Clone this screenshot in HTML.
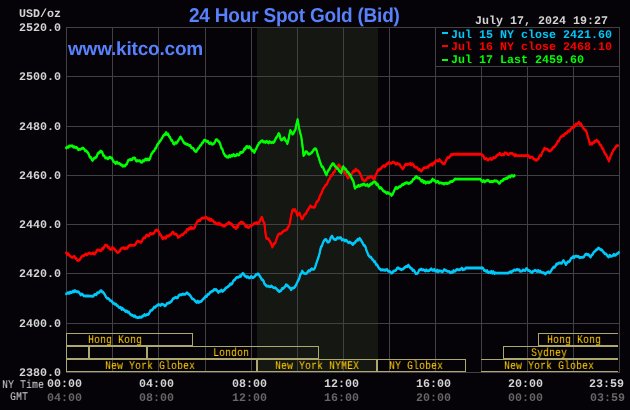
<!DOCTYPE html>
<html><head><meta charset="utf-8"><style>
html,body{margin:0;padding:0;background:#050308;}
#c{position:relative;width:630px;height:410px;overflow:hidden;}
svg{position:absolute;left:0;top:0;}
.t{position:absolute;white-space:pre;line-height:1;will-change:transform;text-rendering:geometricPrecision;}
.m7{font-family:"Liberation Mono",monospace;font-size:11.67px;font-weight:bold;}
.m6{font-family:"Liberation Mono",monospace;font-size:11.67px;transform:scaleX(0.857143);transform-origin:0 0;}
.sb{font-family:"Liberation Sans",sans-serif;font-weight:bold;color:#5882fc;}
</style></head><body><div id="c">
<svg width="630" height="410">
<rect x="0" y="0" width="630" height="410" fill="#050308"/>
<rect x="257" y="28" width="121" height="344" fill="#151713"/>
<rect x="66" y="27" width="1" height="346" fill="#414141"/>
<rect x="112" y="27" width="1" height="346" fill="#414141"/>
<rect x="158" y="27" width="1" height="346" fill="#414141"/>
<rect x="205" y="27" width="1" height="346" fill="#414141"/>
<rect x="251" y="27" width="1" height="346" fill="#414141"/>
<rect x="297" y="27" width="1" height="346" fill="#414141"/>
<rect x="343" y="27" width="1" height="346" fill="#414141"/>
<rect x="389" y="27" width="1" height="346" fill="#414141"/>
<rect x="435" y="27" width="1" height="346" fill="#414141"/>
<rect x="481" y="27" width="1" height="346" fill="#414141"/>
<rect x="527" y="27" width="1" height="346" fill="#414141"/>
<rect x="573" y="27" width="1" height="346" fill="#414141"/>
<rect x="619" y="27" width="1" height="346" fill="#414141"/>
<rect x="66" y="27" width="554" height="1" fill="#414141"/>
<rect x="66" y="76" width="554" height="1" fill="#414141"/>
<rect x="66" y="126" width="554" height="1" fill="#414141"/>
<rect x="66" y="175" width="554" height="1" fill="#414141"/>
<rect x="66" y="224" width="554" height="1" fill="#414141"/>
<rect x="66" y="273" width="554" height="1" fill="#414141"/>
<rect x="66" y="323" width="554" height="1" fill="#414141"/>
<rect x="66" y="372" width="554" height="1" fill="#414141"/>
<rect x="435" y="27" width="185" height="40" fill="#414141"/>
<rect x="436" y="28" width="183" height="38" fill="#050308"/>
<g fill="none" stroke="#00c8f8" stroke-width="1.9" stroke-linejoin="round" stroke-linecap="square"><polyline points="66.3,293.3 67.3,292.7 68.2,292.1 69.2,292.9 70.1,291.4 71.1,292.2 72.1,291.6 73.0,290.6 74.0,291.4 74.9,290.1 75.9,290.9 76.9,291.3 77.9,291.1 78.9,291.7 79.8,293.0 80.8,294.4 81.8,293.4 82.8,294.2 83.8,295.4 84.8,295.4 85.7,295.5 86.6,295.5 87.6,295.5 88.5,295.5 89.5,295.6 90.5,295.6 91.4,295.6 92.3,295.7 93.3,295.7 94.3,294.2 95.3,293.9 96.3,294.3 97.3,292.2 98.3,292.4 99.3,291.8 100.3,290.5 101.3,290.1 102.2,291.5 103.2,291.7 104.1,293.0 105.1,294.6 106.0,296.5 107.0,297.7 108.0,297.9 109.0,298.5 110.0,299.8 111.0,300.3 112.0,300.8 113.0,302.7 114.0,302.8 115.0,303.9 115.9,303.5 116.8,304.9 117.8,305.4 118.8,306.8 119.7,307.1 120.7,306.8 121.6,309.0 122.5,307.7 123.5,309.2 124.5,309.7 125.6,311.1 126.7,310.4 127.7,311.8 128.8,311.5 129.8,313.2 130.8,314.1 131.8,314.8 132.8,314.8 133.8,316.0 134.8,315.2 135.8,316.6 136.8,316.8 137.8,317.1 138.8,317.0 139.7,316.4 140.7,316.9 141.6,316.8 142.6,315.4 143.5,315.5 144.5,313.9 145.4,315.0 146.4,314.5 147.3,313.9 148.3,314.0 149.3,312.7 150.2,310.6 151.2,309.8 152.2,309.5 153.2,308.2 154.2,306.5 155.3,306.8 156.3,305.5 157.4,304.8 158.4,304.0 159.5,304.3 160.6,305.0 161.6,303.6 162.7,303.9 163.8,304.3 164.8,305.5 165.9,304.7 166.9,302.9 167.9,302.9 168.9,302.3 169.9,302.1 170.8,301.2 171.8,300.4 172.8,298.3 173.8,297.9 174.8,297.3 175.8,296.7 176.8,297.4 177.8,297.1 178.7,294.9 179.7,294.5 180.7,294.2 181.7,294.3 182.8,293.5 183.8,293.9 184.9,293.9 186.0,293.0 187.0,292.3 188.1,293.2 189.1,294.0 190.0,294.8 191.0,296.2 192.0,298.1 192.9,298.5 193.9,299.0 194.9,300.2 195.8,301.3 196.8,301.9 197.7,300.5 198.7,302.0 199.6,301.3 200.5,301.1 201.5,300.6 202.4,299.5 203.4,298.3 204.5,297.4 205.6,295.8 206.6,296.1 207.6,293.9 208.7,293.9 209.8,292.2 210.8,291.7 211.9,290.8 213.0,290.4 214.0,289.0 215.1,289.2 216.2,289.0 217.2,290.3 218.3,292.0 219.4,290.7 220.4,290.8 221.4,289.6 222.5,291.0 223.6,289.9 224.6,289.2 225.6,287.6 226.5,287.1 227.5,286.5 228.4,285.7 229.4,285.2 230.3,283.3 231.3,283.8 232.2,283.0 233.2,280.7 234.1,279.7 235.1,279.0 236.0,277.5 237.0,276.9 237.9,276.8 238.9,276.5 239.9,275.3 240.8,275.9 241.8,273.8 242.7,272.9 243.7,273.3 244.7,275.5 245.8,275.7 246.8,276.8 247.9,276.2 249.0,277.3 250.1,277.4 251.1,275.9 252.0,276.6 253.0,277.2 253.9,276.5 254.9,275.7 255.8,274.3 256.8,274.2 257.7,273.3 258.7,273.6 259.7,275.7 260.6,276.7 261.6,278.8 262.6,279.3 263.6,280.6 264.5,283.4 265.5,284.2 266.5,285.6 267.4,285.6 268.4,285.8 269.4,286.1 270.4,286.2 271.3,285.4 272.3,286.3 273.3,287.0 274.2,287.4 275.2,287.3 276.2,288.0 277.2,289.2 278.1,289.9 279.1,291.1 280.1,290.5 281.1,290.1 282.1,288.0 283.0,288.1 284.0,287.2 285.0,286.2 286.0,284.2 287.0,284.9 288.0,285.6 289.1,286.7 290.1,287.6 291.1,289.3 292.1,287.6 293.1,287.5 294.2,287.1 295.2,286.0 296.2,284.2 297.2,281.9 298.2,280.0 299.2,278.1 300.2,274.2 301.2,273.2 302.2,270.6 303.3,272.3 304.5,272.9 305.6,273.1 306.6,272.9 307.6,271.5 308.7,270.1 309.7,270.6 310.7,269.2 311.8,268.3 312.9,268.9 313.9,268.7 315.0,267.2 316.1,263.5 317.3,260.1 318.4,256.9 319.6,252.8 320.9,246.7 322.0,245.3 323.0,242.1 324.1,240.1 325.2,239.0 326.3,239.1 327.5,241.6 328.6,241.6 329.7,240.3 330.9,236.8 332.0,235.6 333.1,237.5 334.3,238.9 335.4,239.0 336.3,238.8 337.1,237.5 338.0,237.3 339.0,237.7 340.0,237.1 340.9,237.2 341.9,239.6 342.9,239.2 343.9,239.3 344.8,240.5 345.8,239.7 346.8,240.2 347.8,241.7 348.8,242.2 349.8,241.5 350.8,242.3 351.8,243.0 352.8,244.1 353.8,242.6 354.7,242.5 355.7,240.9 356.7,240.3 357.7,238.8 358.6,239.6 359.6,237.8 360.6,239.0 361.6,240.7 362.6,242.4 363.6,244.6 364.6,245.0 365.6,246.7 366.5,250.2 367.3,251.8 368.2,254.4 369.2,255.6 370.2,256.7 371.1,256.7 372.1,258.8 373.1,259.4 374.1,261.2 375.1,261.3 376.1,264.3 377.1,264.1 378.0,266.0 379.0,267.8 380.0,268.6 381.0,269.7 382.0,269.2 383.0,269.5 384.1,269.5 385.1,269.9 386.1,269.2 387.1,269.0 388.1,270.7 389.2,270.7 390.2,271.4 391.2,272.6 392.2,272.4 393.1,271.1 394.1,270.4 395.1,270.1 396.1,269.7 397.0,267.8 398.0,267.2 399.1,268.1 400.3,268.5 401.4,269.2 402.4,268.6 403.4,268.3 404.4,267.1 405.3,266.6 406.3,265.9 407.3,266.2 408.3,264.6 409.4,266.2 410.6,267.7 411.7,268.0 412.7,270.0 413.7,269.5 414.8,271.2 415.8,273.1 416.8,273.1 417.9,272.5 419.1,269.7 420.2,269.2 421.2,268.6 422.2,269.6 423.3,269.1 424.3,269.7 425.3,270.6 426.3,269.3 427.3,270.3 428.4,270.2 429.4,270.1 430.4,268.9 431.4,268.3 432.3,269.7 433.3,269.8 434.2,268.8 435.2,270.6 436.2,270.9 437.1,269.5 438.1,271.3 439.0,270.2 440.0,270.6 441.0,270.4 442.1,271.3 443.1,270.8 444.2,269.1 445.2,269.7 446.2,270.1 447.3,270.8 448.3,270.9 449.4,271.1 450.4,272.3 451.5,271.5 452.5,272.0 453.6,270.1 454.6,270.9 455.7,270.2 456.8,268.9 457.8,269.2 458.9,269.2 459.9,269.2 460.8,268.7 461.8,267.5 462.8,269.3 463.8,268.6 464.7,268.8 465.7,267.5 466.7,267.5 467.8,267.5 468.8,267.5 469.8,267.5 470.8,267.5 471.9,267.5 472.9,267.5 473.9,267.5 474.9,267.5 476.0,267.5 477.0,267.5 478.0,267.5 479.0,267.5 480.1,267.5 481.1,267.5 482.1,267.3 483.1,267.9 484.2,270.0 485.2,270.1 486.2,270.9 487.2,270.1 488.2,272.2 489.3,271.7 490.3,272.2 491.3,270.8 492.3,272.7 493.3,271.1 494.4,273.1 495.4,272.3 496.4,272.6 497.4,272.6 498.4,272.6 499.4,272.6 500.4,272.6 501.4,272.6 502.4,272.6 503.4,272.6 504.4,272.6 505.4,272.6 506.4,272.6 507.4,272.6 508.4,272.6 509.4,271.8 510.3,271.3 511.3,271.9 512.3,270.5 513.3,270.5 514.2,269.4 515.2,269.7 516.2,269.5 517.1,268.9 518.1,269.5 519.1,269.1 520.1,270.9 521.0,270.6 522.0,270.6 523.0,269.5 524.1,269.7 525.1,270.3 526.2,268.1 527.2,268.5 528.2,270.1 529.3,270.1 530.4,271.0 531.4,271.9 532.3,272.1 533.2,270.6 534.2,270.3 535.1,269.7 536.1,270.3 537.1,271.1 538.2,269.9 539.2,271.2 540.2,270.6 541.2,271.7 542.3,272.1 543.3,272.2 544.4,272.7 545.4,273.6 546.4,272.2 547.4,271.9 548.5,271.3 549.5,272.4 550.5,271.4 551.5,269.5 552.5,268.0 553.5,266.5 554.5,266.8 555.5,265.5 556.5,263.4 557.5,263.7 558.5,262.7 559.6,262.5 560.6,262.5 561.6,262.9 562.5,261.4 563.3,260.0 564.5,261.3 565.8,264.1 566.8,262.7 567.9,261.1 568.9,261.3 570.0,260.1 571.0,257.8 572.0,257.4 573.1,256.1 574.2,257.2 575.2,255.6 576.3,255.6 577.4,256.1 578.4,255.8 579.5,257.3 580.6,256.9 581.6,256.9 582.7,256.8 583.8,256.6 585.0,254.4 586.3,253.5 587.4,254.3 588.5,254.0 589.5,255.3 590.6,256.6 591.6,254.6 592.5,254.1 593.5,252.2 594.5,251.0 595.4,250.5 596.4,249.2 597.3,248.8 598.3,247.5 599.4,248.1 600.6,249.2 601.7,249.2 602.7,250.6 603.7,251.8 604.7,253.2 605.6,253.2 606.6,254.2 607.6,255.6 608.6,256.6 609.7,254.7 610.7,255.9 611.8,255.6 612.8,255.2 613.8,253.7 614.8,254.9 615.8,254.5 616.7,253.4 617.7,253.1 618.7,252.1"/><polyline transform="translate(0,1)" points="66.3,293.3 67.3,292.7 68.2,292.1 69.2,292.9 70.1,291.4 71.1,292.2 72.1,291.6 73.0,290.6 74.0,291.4 74.9,290.1 75.9,290.9 76.9,291.3 77.9,291.1 78.9,291.7 79.8,293.0 80.8,294.4 81.8,293.4 82.8,294.2 83.8,295.4 84.8,295.4 85.7,295.5 86.6,295.5 87.6,295.5 88.5,295.5 89.5,295.6 90.5,295.6 91.4,295.6 92.3,295.7 93.3,295.7 94.3,294.2 95.3,293.9 96.3,294.3 97.3,292.2 98.3,292.4 99.3,291.8 100.3,290.5 101.3,290.1 102.2,291.5 103.2,291.7 104.1,293.0 105.1,294.6 106.0,296.5 107.0,297.7 108.0,297.9 109.0,298.5 110.0,299.8 111.0,300.3 112.0,300.8 113.0,302.7 114.0,302.8 115.0,303.9 115.9,303.5 116.8,304.9 117.8,305.4 118.8,306.8 119.7,307.1 120.7,306.8 121.6,309.0 122.5,307.7 123.5,309.2 124.5,309.7 125.6,311.1 126.7,310.4 127.7,311.8 128.8,311.5 129.8,313.2 130.8,314.1 131.8,314.8 132.8,314.8 133.8,316.0 134.8,315.2 135.8,316.6 136.8,316.8 137.8,317.1 138.8,317.0 139.7,316.4 140.7,316.9 141.6,316.8 142.6,315.4 143.5,315.5 144.5,313.9 145.4,315.0 146.4,314.5 147.3,313.9 148.3,314.0 149.3,312.7 150.2,310.6 151.2,309.8 152.2,309.5 153.2,308.2 154.2,306.5 155.3,306.8 156.3,305.5 157.4,304.8 158.4,304.0 159.5,304.3 160.6,305.0 161.6,303.6 162.7,303.9 163.8,304.3 164.8,305.5 165.9,304.7 166.9,302.9 167.9,302.9 168.9,302.3 169.9,302.1 170.8,301.2 171.8,300.4 172.8,298.3 173.8,297.9 174.8,297.3 175.8,296.7 176.8,297.4 177.8,297.1 178.7,294.9 179.7,294.5 180.7,294.2 181.7,294.3 182.8,293.5 183.8,293.9 184.9,293.9 186.0,293.0 187.0,292.3 188.1,293.2 189.1,294.0 190.0,294.8 191.0,296.2 192.0,298.1 192.9,298.5 193.9,299.0 194.9,300.2 195.8,301.3 196.8,301.9 197.7,300.5 198.7,302.0 199.6,301.3 200.5,301.1 201.5,300.6 202.4,299.5 203.4,298.3 204.5,297.4 205.6,295.8 206.6,296.1 207.6,293.9 208.7,293.9 209.8,292.2 210.8,291.7 211.9,290.8 213.0,290.4 214.0,289.0 215.1,289.2 216.2,289.0 217.2,290.3 218.3,292.0 219.4,290.7 220.4,290.8 221.4,289.6 222.5,291.0 223.6,289.9 224.6,289.2 225.6,287.6 226.5,287.1 227.5,286.5 228.4,285.7 229.4,285.2 230.3,283.3 231.3,283.8 232.2,283.0 233.2,280.7 234.1,279.7 235.1,279.0 236.0,277.5 237.0,276.9 237.9,276.8 238.9,276.5 239.9,275.3 240.8,275.9 241.8,273.8 242.7,272.9 243.7,273.3 244.7,275.5 245.8,275.7 246.8,276.8 247.9,276.2 249.0,277.3 250.1,277.4 251.1,275.9 252.0,276.6 253.0,277.2 253.9,276.5 254.9,275.7 255.8,274.3 256.8,274.2 257.7,273.3 258.7,273.6 259.7,275.7 260.6,276.7 261.6,278.8 262.6,279.3 263.6,280.6 264.5,283.4 265.5,284.2 266.5,285.6 267.4,285.6 268.4,285.8 269.4,286.1 270.4,286.2 271.3,285.4 272.3,286.3 273.3,287.0 274.2,287.4 275.2,287.3 276.2,288.0 277.2,289.2 278.1,289.9 279.1,291.1 280.1,290.5 281.1,290.1 282.1,288.0 283.0,288.1 284.0,287.2 285.0,286.2 286.0,284.2 287.0,284.9 288.0,285.6 289.1,286.7 290.1,287.6 291.1,289.3 292.1,287.6 293.1,287.5 294.2,287.1 295.2,286.0 296.2,284.2 297.2,281.9 298.2,280.0 299.2,278.1 300.2,274.2 301.2,273.2 302.2,270.6 303.3,272.3 304.5,272.9 305.6,273.1 306.6,272.9 307.6,271.5 308.7,270.1 309.7,270.6 310.7,269.2 311.8,268.3 312.9,268.9 313.9,268.7 315.0,267.2 316.1,263.5 317.3,260.1 318.4,256.9 319.6,252.8 320.9,246.7 322.0,245.3 323.0,242.1 324.1,240.1 325.2,239.0 326.3,239.1 327.5,241.6 328.6,241.6 329.7,240.3 330.9,236.8 332.0,235.6 333.1,237.5 334.3,238.9 335.4,239.0 336.3,238.8 337.1,237.5 338.0,237.3 339.0,237.7 340.0,237.1 340.9,237.2 341.9,239.6 342.9,239.2 343.9,239.3 344.8,240.5 345.8,239.7 346.8,240.2 347.8,241.7 348.8,242.2 349.8,241.5 350.8,242.3 351.8,243.0 352.8,244.1 353.8,242.6 354.7,242.5 355.7,240.9 356.7,240.3 357.7,238.8 358.6,239.6 359.6,237.8 360.6,239.0 361.6,240.7 362.6,242.4 363.6,244.6 364.6,245.0 365.6,246.7 366.5,250.2 367.3,251.8 368.2,254.4 369.2,255.6 370.2,256.7 371.1,256.7 372.1,258.8 373.1,259.4 374.1,261.2 375.1,261.3 376.1,264.3 377.1,264.1 378.0,266.0 379.0,267.8 380.0,268.6 381.0,269.7 382.0,269.2 383.0,269.5 384.1,269.5 385.1,269.9 386.1,269.2 387.1,269.0 388.1,270.7 389.2,270.7 390.2,271.4 391.2,272.6 392.2,272.4 393.1,271.1 394.1,270.4 395.1,270.1 396.1,269.7 397.0,267.8 398.0,267.2 399.1,268.1 400.3,268.5 401.4,269.2 402.4,268.6 403.4,268.3 404.4,267.1 405.3,266.6 406.3,265.9 407.3,266.2 408.3,264.6 409.4,266.2 410.6,267.7 411.7,268.0 412.7,270.0 413.7,269.5 414.8,271.2 415.8,273.1 416.8,273.1 417.9,272.5 419.1,269.7 420.2,269.2 421.2,268.6 422.2,269.6 423.3,269.1 424.3,269.7 425.3,270.6 426.3,269.3 427.3,270.3 428.4,270.2 429.4,270.1 430.4,268.9 431.4,268.3 432.3,269.7 433.3,269.8 434.2,268.8 435.2,270.6 436.2,270.9 437.1,269.5 438.1,271.3 439.0,270.2 440.0,270.6 441.0,270.4 442.1,271.3 443.1,270.8 444.2,269.1 445.2,269.7 446.2,270.1 447.3,270.8 448.3,270.9 449.4,271.1 450.4,272.3 451.5,271.5 452.5,272.0 453.6,270.1 454.6,270.9 455.7,270.2 456.8,268.9 457.8,269.2 458.9,269.2 459.9,269.2 460.8,268.7 461.8,267.5 462.8,269.3 463.8,268.6 464.7,268.8 465.7,267.5 466.7,267.5 467.8,267.5 468.8,267.5 469.8,267.5 470.8,267.5 471.9,267.5 472.9,267.5 473.9,267.5 474.9,267.5 476.0,267.5 477.0,267.5 478.0,267.5 479.0,267.5 480.1,267.5 481.1,267.5 482.1,267.3 483.1,267.9 484.2,270.0 485.2,270.1 486.2,270.9 487.2,270.1 488.2,272.2 489.3,271.7 490.3,272.2 491.3,270.8 492.3,272.7 493.3,271.1 494.4,273.1 495.4,272.3 496.4,272.6 497.4,272.6 498.4,272.6 499.4,272.6 500.4,272.6 501.4,272.6 502.4,272.6 503.4,272.6 504.4,272.6 505.4,272.6 506.4,272.6 507.4,272.6 508.4,272.6 509.4,271.8 510.3,271.3 511.3,271.9 512.3,270.5 513.3,270.5 514.2,269.4 515.2,269.7 516.2,269.5 517.1,268.9 518.1,269.5 519.1,269.1 520.1,270.9 521.0,270.6 522.0,270.6 523.0,269.5 524.1,269.7 525.1,270.3 526.2,268.1 527.2,268.5 528.2,270.1 529.3,270.1 530.4,271.0 531.4,271.9 532.3,272.1 533.2,270.6 534.2,270.3 535.1,269.7 536.1,270.3 537.1,271.1 538.2,269.9 539.2,271.2 540.2,270.6 541.2,271.7 542.3,272.1 543.3,272.2 544.4,272.7 545.4,273.6 546.4,272.2 547.4,271.9 548.5,271.3 549.5,272.4 550.5,271.4 551.5,269.5 552.5,268.0 553.5,266.5 554.5,266.8 555.5,265.5 556.5,263.4 557.5,263.7 558.5,262.7 559.6,262.5 560.6,262.5 561.6,262.9 562.5,261.4 563.3,260.0 564.5,261.3 565.8,264.1 566.8,262.7 567.9,261.1 568.9,261.3 570.0,260.1 571.0,257.8 572.0,257.4 573.1,256.1 574.2,257.2 575.2,255.6 576.3,255.6 577.4,256.1 578.4,255.8 579.5,257.3 580.6,256.9 581.6,256.9 582.7,256.8 583.8,256.6 585.0,254.4 586.3,253.5 587.4,254.3 588.5,254.0 589.5,255.3 590.6,256.6 591.6,254.6 592.5,254.1 593.5,252.2 594.5,251.0 595.4,250.5 596.4,249.2 597.3,248.8 598.3,247.5 599.4,248.1 600.6,249.2 601.7,249.2 602.7,250.6 603.7,251.8 604.7,253.2 605.6,253.2 606.6,254.2 607.6,255.6 608.6,256.6 609.7,254.7 610.7,255.9 611.8,255.6 612.8,255.2 613.8,253.7 614.8,254.9 615.8,254.5 616.7,253.4 617.7,253.1 618.7,252.1"/></g>
<g fill="none" stroke="#ff0000" stroke-width="1.9" stroke-linejoin="round" stroke-linecap="square"><polyline points="66.3,252.4 67.3,253.9 68.2,253.2 69.2,254.8 70.1,255.5 71.1,256.3 72.2,256.9 73.2,256.6 74.3,255.8 75.3,257.6 76.3,258.1 77.3,259.8 78.3,260.0 79.2,259.6 80.1,258.8 81.0,257.0 82.0,255.8 82.9,255.2 83.8,255.2 84.7,254.4 85.7,253.4 86.6,254.5 87.5,253.5 88.5,253.1 89.4,252.4 90.3,252.9 91.3,253.3 92.2,253.1 93.2,252.3 94.1,253.6 95.2,252.9 96.2,251.4 97.3,249.5 98.3,249.6 99.3,249.8 100.3,250.2 101.3,250.0 102.2,248.0 103.2,248.4 104.1,246.3 105.1,244.8 106.0,244.7 107.0,245.0 107.9,246.9 108.9,246.6 109.8,248.6 110.8,248.9 111.6,248.9 112.4,246.8 113.3,247.7 114.2,248.3 115.2,249.4 116.1,250.7 117.0,251.7 117.9,252.0 118.9,251.4 119.8,250.6 120.8,248.4 121.7,247.7 122.7,247.6 123.7,247.1 124.7,248.3 125.7,247.4 126.7,247.9 127.6,247.4 128.6,245.5 129.5,245.0 130.5,244.8 131.4,244.7 132.4,244.9 133.4,244.8 134.4,244.6 135.4,244.1 136.6,241.8 137.8,240.5 138.9,241.0 139.9,241.4 141.0,242.0 142.0,240.4 143.1,238.0 144.1,237.3 145.2,237.3 146.2,234.8 147.3,234.6 148.3,235.4 149.2,235.0 150.2,232.8 151.1,233.5 152.1,233.3 153.1,233.1 154.1,232.6 155.0,230.6 156.0,229.8 157.1,229.6 158.2,230.5 159.1,231.4 160.1,234.6 161.0,234.6 162.0,237.0 162.9,238.4 163.9,237.1 164.8,237.4 165.8,237.8 166.7,235.4 167.7,235.7 168.6,235.7 169.6,234.4 170.5,234.5 171.4,233.4 172.4,231.7 173.3,231.6 174.2,233.5 175.2,233.6 176.1,233.7 177.1,234.7 178.0,236.8 179.0,236.3 179.9,235.7 180.9,234.9 181.8,234.1 182.8,234.4 183.9,233.0 184.9,231.8 185.9,231.8 187.0,228.9 188.1,229.5 189.1,227.8 190.0,228.4 191.0,226.6 191.9,228.2 192.8,227.6 193.8,227.9 194.7,226.8 195.9,223.6 197.1,221.4 198.0,220.4 199.0,219.7 199.9,220.3 200.9,218.7 201.8,217.8 202.7,217.5 203.7,217.6 204.6,217.3 205.5,216.8 206.5,216.9 207.4,217.8 208.3,218.9 209.3,218.1 210.2,220.0 211.2,218.8 212.1,219.8 213.1,220.2 214.1,221.7 215.1,222.0 216.1,223.6 217.2,223.0 218.2,223.9 219.3,222.5 220.2,223.9 221.2,224.3 222.1,224.4 223.1,225.6 224.0,225.2 225.0,225.5 226.0,224.0 227.0,223.7 228.0,222.5 229.1,221.8 230.1,223.5 231.2,223.3 232.2,224.2 233.1,225.8 234.1,226.5 235.0,226.7 236.0,228.1 236.9,225.8 237.9,226.5 238.8,223.4 239.8,222.9 240.7,221.7 241.8,221.8 242.8,222.1 243.9,223.0 244.9,224.6 245.9,226.1 246.9,225.5 247.9,227.1 249.0,226.8 250.1,225.4 251.1,225.4 252.2,224.6 253.1,223.9 254.1,223.0 255.0,222.5 255.9,222.8 256.9,222.0 257.9,223.3 258.9,222.2 259.9,220.4 261.0,217.9 262.0,216.7 263.2,220.6 264.4,222.8 265.3,231.2 266.2,237.4 267.2,238.1 268.3,238.3 269.3,239.9 270.3,241.5 271.3,243.5 272.3,246.6 273.3,244.8 274.4,242.8 275.4,242.3 276.4,238.9 277.4,236.1 278.4,233.8 279.5,233.3 280.5,233.4 281.6,232.5 282.7,231.3 283.8,230.5 284.9,229.9 285.9,229.6 287.0,228.9 288.2,226.5 289.4,224.6 290.4,219.3 291.4,213.7 292.4,209.7 293.3,209.0 294.2,210.3 295.1,209.1 296.2,211.3 297.3,215.1 298.4,213.8 299.5,212.4 300.6,215.7 301.7,218.4 302.8,217.8 303.9,215.0 305.0,213.8 306.1,212.9 307.2,210.4 308.3,208.9 309.4,207.1 310.5,205.3 311.6,206.6 312.7,206.6 313.8,206.9 314.9,206.4 315.9,203.2 316.9,201.2 317.8,200.6 318.8,198.9 319.8,195.9 320.9,193.7 322.0,191.7 323.1,188.3 324.2,187.2 325.3,185.0 326.4,184.3 327.5,182.1 328.6,179.5 329.8,178.0 331.0,175.0 332.1,174.9 333.3,172.1 334.4,171.5 335.5,168.8 336.5,167.1 337.6,166.1 338.7,164.3 339.8,165.7 340.9,167.3 342.0,167.3 343.1,169.5 344.1,171.0 345.2,173.0 346.3,174.1 347.1,175.7 348.0,177.5 349.1,176.3 350.1,173.9 351.2,174.3 352.3,172.4 353.4,170.5 354.6,170.8 355.7,168.6 356.8,169.9 358.0,170.1 359.1,171.5 360.2,173.2 361.4,176.1 362.5,179.2 363.8,179.9 365.0,180.1 365.9,179.8 366.9,177.8 367.9,177.0 368.8,177.3 369.8,176.7 370.7,175.8 371.6,176.4 372.5,176.8 373.5,178.4 374.4,179.0 375.3,175.5 376.2,173.7 377.1,171.6 378.0,169.3 379.0,169.7 380.0,168.4 380.9,168.3 381.9,166.8 382.9,165.7 383.9,165.1 384.9,166.0 385.8,164.9 386.8,163.4 387.8,163.2 388.8,161.9 389.8,162.8 390.9,162.9 391.9,162.2 392.9,161.6 393.9,161.9 395.0,162.7 396.1,163.7 397.3,162.6 398.4,163.6 399.5,163.8 400.5,165.6 401.6,167.0 402.7,168.4 403.8,167.2 405.0,164.5 406.1,163.6 407.1,164.2 408.1,164.0 409.1,163.5 410.1,162.8 411.1,164.4 412.1,163.3 413.2,164.0 414.4,166.3 415.5,166.7 416.5,166.8 417.5,167.4 418.6,169.3 419.6,169.0 420.6,170.1 421.6,170.5 422.5,169.0 423.5,167.7 424.5,167.3 425.5,167.1 426.4,167.1 427.4,166.2 428.4,166.7 429.3,164.5 430.3,164.5 431.3,163.6 432.3,164.8 433.2,162.5 434.2,162.8 435.2,161.0 436.3,160.3 437.3,160.2 438.4,160.6 439.4,158.9 440.4,160.6 441.4,161.2 442.5,162.6 443.5,163.4 444.5,163.3 445.6,160.8 446.8,158.3 447.9,156.8 448.9,157.1 449.9,156.1 451.0,153.9 452.0,154.7 453.0,153.7 454.0,153.7 455.0,153.7 456.0,153.7 457.0,153.7 458.1,153.7 459.1,153.7 460.1,153.7 461.1,153.7 462.1,153.7 463.1,153.7 464.1,153.7 465.1,153.7 466.1,153.7 467.2,153.7 468.2,153.7 469.2,153.7 470.2,153.7 471.2,153.7 472.2,153.7 473.2,153.7 474.2,153.7 475.2,153.7 476.3,153.7 477.3,153.7 478.3,153.7 479.3,153.7 480.3,153.7 481.3,153.6 482.3,154.5 483.4,155.4 484.4,158.2 485.4,158.2 486.3,157.8 487.1,159.1 488.0,159.6 488.9,158.9 489.8,158.3 490.7,157.9 491.6,159.1 492.6,158.1 493.5,157.0 494.4,157.3 495.5,156.9 496.6,155.2 497.8,154.3 498.9,153.9 499.9,152.7 500.9,154.3 501.9,154.5 502.9,153.8 503.9,154.4 505.0,152.3 506.0,152.6 507.0,153.0 508.0,154.0 509.0,153.9 510.0,152.8 511.0,152.9 511.9,152.9 512.9,153.6 513.8,154.1 514.8,155.4 515.7,154.1 516.7,155.1 517.7,155.1 518.7,155.1 519.7,155.1 520.7,155.1 521.7,155.1 522.7,155.1 523.7,155.1 524.7,155.1 525.7,155.1 526.7,155.1 527.7,154.7 528.7,155.4 529.7,157.1 530.7,156.5 531.6,156.6 532.6,157.0 533.6,158.6 534.6,158.6 535.6,159.5 536.5,159.8 537.4,158.9 538.4,158.4 539.3,156.0 540.2,154.9 541.1,155.1 542.2,151.7 543.3,150.2 544.4,147.7 545.3,148.6 546.3,148.5 547.2,148.6 548.1,149.5 549.1,150.4 550.0,150.6 551.1,149.7 552.2,148.6 553.3,146.8 554.4,146.4 555.6,144.8 556.7,143.3 557.8,140.7 558.9,140.5 560.0,137.5 561.1,136.2 562.0,135.8 563.0,134.8 563.9,135.0 564.8,133.3 565.8,132.8 566.7,132.8 567.6,131.3 568.6,130.2 569.5,130.8 570.5,129.2 571.4,127.7 572.4,126.9 573.3,126.2 574.2,126.5 575.2,124.7 576.1,123.4 577.0,123.9 578.0,122.8 578.9,121.7 579.9,123.9 580.8,123.1 581.8,125.0 582.7,126.9 583.7,128.0 584.6,129.3 585.6,129.5 586.7,132.1 587.8,136.2 588.9,139.5 590.0,143.9 591.0,142.6 591.9,143.7 592.9,142.2 593.8,142.3 594.8,140.5 595.7,140.9 596.7,139.5 597.8,140.8 598.9,141.8 600.0,144.3 601.1,145.1 602.1,148.0 603.0,148.1 604.0,151.1 605.0,153.1 606.0,154.2 607.0,156.4 607.9,157.9 608.9,160.6 610.0,157.2 611.1,154.5 612.2,152.5 613.3,149.5 614.4,148.7 615.5,146.6 616.7,145.1 617.8,145.1"/><polyline transform="translate(0,1)" points="66.3,252.4 67.3,253.9 68.2,253.2 69.2,254.8 70.1,255.5 71.1,256.3 72.2,256.9 73.2,256.6 74.3,255.8 75.3,257.6 76.3,258.1 77.3,259.8 78.3,260.0 79.2,259.6 80.1,258.8 81.0,257.0 82.0,255.8 82.9,255.2 83.8,255.2 84.7,254.4 85.7,253.4 86.6,254.5 87.5,253.5 88.5,253.1 89.4,252.4 90.3,252.9 91.3,253.3 92.2,253.1 93.2,252.3 94.1,253.6 95.2,252.9 96.2,251.4 97.3,249.5 98.3,249.6 99.3,249.8 100.3,250.2 101.3,250.0 102.2,248.0 103.2,248.4 104.1,246.3 105.1,244.8 106.0,244.7 107.0,245.0 107.9,246.9 108.9,246.6 109.8,248.6 110.8,248.9 111.6,248.9 112.4,246.8 113.3,247.7 114.2,248.3 115.2,249.4 116.1,250.7 117.0,251.7 117.9,252.0 118.9,251.4 119.8,250.6 120.8,248.4 121.7,247.7 122.7,247.6 123.7,247.1 124.7,248.3 125.7,247.4 126.7,247.9 127.6,247.4 128.6,245.5 129.5,245.0 130.5,244.8 131.4,244.7 132.4,244.9 133.4,244.8 134.4,244.6 135.4,244.1 136.6,241.8 137.8,240.5 138.9,241.0 139.9,241.4 141.0,242.0 142.0,240.4 143.1,238.0 144.1,237.3 145.2,237.3 146.2,234.8 147.3,234.6 148.3,235.4 149.2,235.0 150.2,232.8 151.1,233.5 152.1,233.3 153.1,233.1 154.1,232.6 155.0,230.6 156.0,229.8 157.1,229.6 158.2,230.5 159.1,231.4 160.1,234.6 161.0,234.6 162.0,237.0 162.9,238.4 163.9,237.1 164.8,237.4 165.8,237.8 166.7,235.4 167.7,235.7 168.6,235.7 169.6,234.4 170.5,234.5 171.4,233.4 172.4,231.7 173.3,231.6 174.2,233.5 175.2,233.6 176.1,233.7 177.1,234.7 178.0,236.8 179.0,236.3 179.9,235.7 180.9,234.9 181.8,234.1 182.8,234.4 183.9,233.0 184.9,231.8 185.9,231.8 187.0,228.9 188.1,229.5 189.1,227.8 190.0,228.4 191.0,226.6 191.9,228.2 192.8,227.6 193.8,227.9 194.7,226.8 195.9,223.6 197.1,221.4 198.0,220.4 199.0,219.7 199.9,220.3 200.9,218.7 201.8,217.8 202.7,217.5 203.7,217.6 204.6,217.3 205.5,216.8 206.5,216.9 207.4,217.8 208.3,218.9 209.3,218.1 210.2,220.0 211.2,218.8 212.1,219.8 213.1,220.2 214.1,221.7 215.1,222.0 216.1,223.6 217.2,223.0 218.2,223.9 219.3,222.5 220.2,223.9 221.2,224.3 222.1,224.4 223.1,225.6 224.0,225.2 225.0,225.5 226.0,224.0 227.0,223.7 228.0,222.5 229.1,221.8 230.1,223.5 231.2,223.3 232.2,224.2 233.1,225.8 234.1,226.5 235.0,226.7 236.0,228.1 236.9,225.8 237.9,226.5 238.8,223.4 239.8,222.9 240.7,221.7 241.8,221.8 242.8,222.1 243.9,223.0 244.9,224.6 245.9,226.1 246.9,225.5 247.9,227.1 249.0,226.8 250.1,225.4 251.1,225.4 252.2,224.6 253.1,223.9 254.1,223.0 255.0,222.5 255.9,222.8 256.9,222.0 257.9,223.3 258.9,222.2 259.9,220.4 261.0,217.9 262.0,216.7 263.2,220.6 264.4,222.8 265.3,231.2 266.2,237.4 267.2,238.1 268.3,238.3 269.3,239.9 270.3,241.5 271.3,243.5 272.3,246.6 273.3,244.8 274.4,242.8 275.4,242.3 276.4,238.9 277.4,236.1 278.4,233.8 279.5,233.3 280.5,233.4 281.6,232.5 282.7,231.3 283.8,230.5 284.9,229.9 285.9,229.6 287.0,228.9 288.2,226.5 289.4,224.6 290.4,219.3 291.4,213.7 292.4,209.7 293.3,209.0 294.2,210.3 295.1,209.1 296.2,211.3 297.3,215.1 298.4,213.8 299.5,212.4 300.6,215.7 301.7,218.4 302.8,217.8 303.9,215.0 305.0,213.8 306.1,212.9 307.2,210.4 308.3,208.9 309.4,207.1 310.5,205.3 311.6,206.6 312.7,206.6 313.8,206.9 314.9,206.4 315.9,203.2 316.9,201.2 317.8,200.6 318.8,198.9 319.8,195.9 320.9,193.7 322.0,191.7 323.1,188.3 324.2,187.2 325.3,185.0 326.4,184.3 327.5,182.1 328.6,179.5 329.8,178.0 331.0,175.0 332.1,174.9 333.3,172.1 334.4,171.5 335.5,168.8 336.5,167.1 337.6,166.1 338.7,164.3 339.8,165.7 340.9,167.3 342.0,167.3 343.1,169.5 344.1,171.0 345.2,173.0 346.3,174.1 347.1,175.7 348.0,177.5 349.1,176.3 350.1,173.9 351.2,174.3 352.3,172.4 353.4,170.5 354.6,170.8 355.7,168.6 356.8,169.9 358.0,170.1 359.1,171.5 360.2,173.2 361.4,176.1 362.5,179.2 363.8,179.9 365.0,180.1 365.9,179.8 366.9,177.8 367.9,177.0 368.8,177.3 369.8,176.7 370.7,175.8 371.6,176.4 372.5,176.8 373.5,178.4 374.4,179.0 375.3,175.5 376.2,173.7 377.1,171.6 378.0,169.3 379.0,169.7 380.0,168.4 380.9,168.3 381.9,166.8 382.9,165.7 383.9,165.1 384.9,166.0 385.8,164.9 386.8,163.4 387.8,163.2 388.8,161.9 389.8,162.8 390.9,162.9 391.9,162.2 392.9,161.6 393.9,161.9 395.0,162.7 396.1,163.7 397.3,162.6 398.4,163.6 399.5,163.8 400.5,165.6 401.6,167.0 402.7,168.4 403.8,167.2 405.0,164.5 406.1,163.6 407.1,164.2 408.1,164.0 409.1,163.5 410.1,162.8 411.1,164.4 412.1,163.3 413.2,164.0 414.4,166.3 415.5,166.7 416.5,166.8 417.5,167.4 418.6,169.3 419.6,169.0 420.6,170.1 421.6,170.5 422.5,169.0 423.5,167.7 424.5,167.3 425.5,167.1 426.4,167.1 427.4,166.2 428.4,166.7 429.3,164.5 430.3,164.5 431.3,163.6 432.3,164.8 433.2,162.5 434.2,162.8 435.2,161.0 436.3,160.3 437.3,160.2 438.4,160.6 439.4,158.9 440.4,160.6 441.4,161.2 442.5,162.6 443.5,163.4 444.5,163.3 445.6,160.8 446.8,158.3 447.9,156.8 448.9,157.1 449.9,156.1 451.0,153.9 452.0,154.7 453.0,153.7 454.0,153.7 455.0,153.7 456.0,153.7 457.0,153.7 458.1,153.7 459.1,153.7 460.1,153.7 461.1,153.7 462.1,153.7 463.1,153.7 464.1,153.7 465.1,153.7 466.1,153.7 467.2,153.7 468.2,153.7 469.2,153.7 470.2,153.7 471.2,153.7 472.2,153.7 473.2,153.7 474.2,153.7 475.2,153.7 476.3,153.7 477.3,153.7 478.3,153.7 479.3,153.7 480.3,153.7 481.3,153.6 482.3,154.5 483.4,155.4 484.4,158.2 485.4,158.2 486.3,157.8 487.1,159.1 488.0,159.6 488.9,158.9 489.8,158.3 490.7,157.9 491.6,159.1 492.6,158.1 493.5,157.0 494.4,157.3 495.5,156.9 496.6,155.2 497.8,154.3 498.9,153.9 499.9,152.7 500.9,154.3 501.9,154.5 502.9,153.8 503.9,154.4 505.0,152.3 506.0,152.6 507.0,153.0 508.0,154.0 509.0,153.9 510.0,152.8 511.0,152.9 511.9,152.9 512.9,153.6 513.8,154.1 514.8,155.4 515.7,154.1 516.7,155.1 517.7,155.1 518.7,155.1 519.7,155.1 520.7,155.1 521.7,155.1 522.7,155.1 523.7,155.1 524.7,155.1 525.7,155.1 526.7,155.1 527.7,154.7 528.7,155.4 529.7,157.1 530.7,156.5 531.6,156.6 532.6,157.0 533.6,158.6 534.6,158.6 535.6,159.5 536.5,159.8 537.4,158.9 538.4,158.4 539.3,156.0 540.2,154.9 541.1,155.1 542.2,151.7 543.3,150.2 544.4,147.7 545.3,148.6 546.3,148.5 547.2,148.6 548.1,149.5 549.1,150.4 550.0,150.6 551.1,149.7 552.2,148.6 553.3,146.8 554.4,146.4 555.6,144.8 556.7,143.3 557.8,140.7 558.9,140.5 560.0,137.5 561.1,136.2 562.0,135.8 563.0,134.8 563.9,135.0 564.8,133.3 565.8,132.8 566.7,132.8 567.6,131.3 568.6,130.2 569.5,130.8 570.5,129.2 571.4,127.7 572.4,126.9 573.3,126.2 574.2,126.5 575.2,124.7 576.1,123.4 577.0,123.9 578.0,122.8 578.9,121.7 579.9,123.9 580.8,123.1 581.8,125.0 582.7,126.9 583.7,128.0 584.6,129.3 585.6,129.5 586.7,132.1 587.8,136.2 588.9,139.5 590.0,143.9 591.0,142.6 591.9,143.7 592.9,142.2 593.8,142.3 594.8,140.5 595.7,140.9 596.7,139.5 597.8,140.8 598.9,141.8 600.0,144.3 601.1,145.1 602.1,148.0 603.0,148.1 604.0,151.1 605.0,153.1 606.0,154.2 607.0,156.4 607.9,157.9 608.9,160.6 610.0,157.2 611.1,154.5 612.2,152.5 613.3,149.5 614.4,148.7 615.5,146.6 616.7,145.1 617.8,145.1"/></g>
<g fill="none" stroke="#00ff00" stroke-width="1.9" stroke-linejoin="round" stroke-linecap="square"><polyline points="66.3,147.3 67.3,146.5 68.3,146.9 69.3,145.4 70.3,145.7 71.3,145.4 72.3,145.3 73.3,146.7 74.3,146.2 75.3,147.1 76.3,146.8 77.3,147.6 78.3,149.3 79.3,148.7 80.2,148.7 81.2,148.5 82.2,147.8 83.2,147.6 84.1,148.4 85.1,150.3 86.0,150.3 87.0,151.2 87.9,152.2 88.8,153.7 89.8,156.6 90.7,156.7 91.6,158.7 92.5,160.0 93.5,158.5 94.5,157.4 95.5,157.2 96.5,156.3 97.5,153.8 98.5,152.2 99.5,152.2 100.5,150.5 101.4,151.0 102.3,151.8 103.2,154.9 104.2,155.1 105.1,157.1 106.0,157.6 107.0,157.3 107.9,158.3 108.9,157.3 109.8,156.6 110.8,157.3 111.8,157.4 112.8,159.8 113.8,161.1 114.8,162.0 115.8,163.1 116.8,161.4 117.7,162.8 118.7,162.7 119.7,163.2 120.7,164.3 121.7,164.2 122.7,165.8 123.9,165.2 125.1,165.5 126.1,164.0 127.0,163.4 128.0,160.1 129.0,159.5 130.0,159.0 131.0,159.2 132.0,159.1 133.0,157.6 134.0,157.4 134.9,157.7 135.9,160.0 136.8,160.6 137.8,160.0 138.9,160.5 139.9,160.1 141.0,161.6 141.9,161.9 142.9,160.1 143.8,160.6 144.8,159.3 145.7,158.4 146.8,159.5 147.8,158.4 148.9,159.5 150.0,157.9 151.0,154.4 152.1,152.8 153.1,151.0 154.2,150.4 155.2,148.1 156.1,147.4 157.1,144.5 158.1,143.1 159.0,142.3 160.0,140.6 161.0,139.4 162.0,137.6 163.1,135.6 164.1,134.4 165.1,134.0 166.1,132.0 167.1,134.1 168.1,133.5 169.1,135.9 170.1,137.0 171.2,139.6 172.2,140.1 173.3,143.1 174.3,143.7 175.4,142.1 176.4,142.8 177.4,141.4 178.4,139.7 179.4,138.3 180.4,136.4 181.4,137.6 182.4,139.4 183.4,141.4 184.4,142.8 185.4,143.0 186.4,143.9 187.3,143.8 188.3,144.3 189.3,145.0 190.3,144.9 191.3,147.1 192.3,147.6 193.3,147.9 194.3,149.9 195.3,150.8 196.3,151.0 197.2,149.6 198.2,147.8 199.1,147.2 200.1,145.1 201.0,144.7 202.0,142.6 203.0,142.0 204.0,140.0 205.0,139.6 206.0,140.2 206.9,141.0 207.9,140.7 208.8,142.7 209.8,143.1 210.8,142.2 211.8,143.6 212.7,143.7 213.7,143.1 214.8,141.8 215.8,139.5 216.9,139.1 218.1,140.3 219.3,141.5 220.3,143.8 221.3,147.6 222.3,148.4 223.3,151.8 224.3,153.8 225.2,155.3 226.2,155.9 227.2,156.6 228.3,156.8 229.3,155.0 230.4,156.3 231.5,154.8 232.5,155.4 233.6,153.9 234.8,155.4 236.0,155.0 237.1,153.7 238.1,154.6 239.2,154.3 240.2,151.9 241.2,152.0 242.3,151.8 243.3,151.0 244.3,148.2 245.3,148.5 246.3,146.2 247.3,145.9 248.2,147.3 249.2,146.0 250.2,147.0 251.2,148.3 252.3,150.4 253.3,150.1 254.4,152.0 255.3,149.6 256.2,148.3 257.1,146.1 258.0,144.6 259.1,142.5 260.2,141.7 261.3,140.6 262.4,140.2 263.4,141.5 264.5,141.2 265.5,142.0 266.6,140.7 267.6,141.7 268.6,142.4 269.5,141.0 270.5,141.9 271.5,142.2 272.4,141.6 273.4,142.0 274.4,141.0 275.5,138.5 276.5,136.7 277.6,135.6 278.6,132.9 279.6,134.2 280.5,138.4 281.5,139.5 282.5,139.1 283.4,137.8 284.4,137.3 285.4,139.9 286.3,140.7 287.3,143.2 288.3,139.9 289.3,134.6 290.3,130.0 291.4,131.5 292.5,133.7 293.5,132.8 294.4,130.6 295.4,129.3 296.5,123.4 297.6,119.0 299.0,127.1 300.1,132.0 301.2,135.9 302.4,144.5 303.5,155.0 304.6,153.8 305.6,151.2 306.7,151.2 307.7,152.6 308.8,153.9 309.8,153.4 310.8,152.8 311.8,152.1 312.9,150.5 313.9,149.0 314.9,148.3 315.9,148.5 316.9,150.7 317.8,154.6 318.8,157.2 319.7,160.3 320.7,163.2 321.8,166.1 322.9,166.5 323.9,168.8 325.0,171.5 325.8,173.3 326.5,174.5 327.5,171.5 328.6,169.6 329.6,168.4 330.6,166.0 331.7,164.6 332.7,163.0 333.8,163.6 334.9,165.5 336.0,166.5 337.0,167.9 338.1,168.2 339.1,170.3 340.2,171.2 341.2,172.4 342.2,168.4 343.3,166.0 344.3,168.3 345.2,168.2 346.2,169.4 347.2,171.5 348.3,171.8 349.5,174.1 350.6,175.0 351.5,177.5 352.3,179.0 353.2,180.1 354.0,183.7 354.9,187.8 356.1,186.4 357.4,186.1 358.4,184.7 359.3,185.7 360.3,185.1 361.3,184.3 362.3,184.6 363.2,183.7 364.2,183.5 365.3,184.8 366.3,184.7 367.4,183.9 368.4,185.7 369.5,185.1 370.5,183.4 371.5,183.7 372.4,182.7 373.4,181.6 374.4,181.5 375.5,181.6 376.5,184.2 377.6,183.6 378.6,185.9 379.7,187.8 380.8,187.1 381.8,188.3 382.9,190.0 383.9,190.8 384.8,191.1 385.8,191.9 386.7,192.9 387.7,192.0 388.6,192.8 389.6,193.4 390.5,193.4 391.5,194.9 392.4,194.1 393.2,192.3 394.1,190.5 395.0,188.4 396.1,186.8 397.1,188.1 398.2,187.3 399.2,186.2 400.3,186.2 401.4,185.1 402.4,184.0 403.5,184.1 404.5,182.9 405.4,182.9 406.4,182.1 407.4,182.4 408.3,183.0 409.3,182.6 410.2,182.6 411.2,181.5 412.2,180.8 413.2,178.7 414.3,178.3 415.3,176.9 416.3,175.9 417.3,177.3 418.4,177.5 419.4,177.7 420.5,179.2 421.5,180.7 422.6,179.8 423.6,182.0 424.7,180.9 425.7,182.7 426.8,181.9 427.9,181.5 428.9,182.3 430.0,181.5 431.2,181.0 432.5,178.6 433.4,179.8 434.2,179.6 435.1,180.7 436.1,181.8 437.1,180.9 438.1,181.0 439.1,182.7 440.1,182.4 441.1,182.4 442.1,182.9 443.1,182.9 444.2,183.6 445.2,182.6 446.2,182.7 447.2,183.1 448.2,182.5 449.3,182.5 450.3,181.2 451.3,181.0 452.3,181.0 453.3,180.2 454.4,179.1 455.4,178.4 456.4,178.6 457.4,178.6 458.4,178.6 459.4,178.6 460.4,178.6 461.4,178.6 462.4,178.6 463.4,178.6 464.4,178.6 465.4,178.6 466.4,178.6 467.4,178.6 468.4,178.6 469.3,178.6 470.3,178.6 471.3,178.6 472.3,178.6 473.3,178.6 474.3,178.6 475.3,178.6 476.3,178.6 477.3,178.6 478.3,178.6 479.3,178.6 480.3,178.6 481.4,180.2 482.5,181.0 483.5,179.9 484.6,181.5 485.7,180.6 486.8,180.1 487.8,179.7 488.9,180.4 489.9,181.2 490.8,181.1 491.8,180.8 492.7,181.2 493.7,180.8 494.6,180.1 495.6,180.6 496.7,180.5 497.8,181.2 498.9,182.8 499.9,182.7 500.8,180.9 501.8,180.5 502.7,180.1 503.7,178.6 504.6,178.5 505.6,178.4 506.5,177.4 507.4,177.8 508.4,176.5 509.3,175.8 510.2,176.7 511.1,175.1 512.2,175.1 513.3,175.9 514.4,175.1"/><polyline transform="translate(0,1)" points="66.3,147.3 67.3,146.5 68.3,146.9 69.3,145.4 70.3,145.7 71.3,145.4 72.3,145.3 73.3,146.7 74.3,146.2 75.3,147.1 76.3,146.8 77.3,147.6 78.3,149.3 79.3,148.7 80.2,148.7 81.2,148.5 82.2,147.8 83.2,147.6 84.1,148.4 85.1,150.3 86.0,150.3 87.0,151.2 87.9,152.2 88.8,153.7 89.8,156.6 90.7,156.7 91.6,158.7 92.5,160.0 93.5,158.5 94.5,157.4 95.5,157.2 96.5,156.3 97.5,153.8 98.5,152.2 99.5,152.2 100.5,150.5 101.4,151.0 102.3,151.8 103.2,154.9 104.2,155.1 105.1,157.1 106.0,157.6 107.0,157.3 107.9,158.3 108.9,157.3 109.8,156.6 110.8,157.3 111.8,157.4 112.8,159.8 113.8,161.1 114.8,162.0 115.8,163.1 116.8,161.4 117.7,162.8 118.7,162.7 119.7,163.2 120.7,164.3 121.7,164.2 122.7,165.8 123.9,165.2 125.1,165.5 126.1,164.0 127.0,163.4 128.0,160.1 129.0,159.5 130.0,159.0 131.0,159.2 132.0,159.1 133.0,157.6 134.0,157.4 134.9,157.7 135.9,160.0 136.8,160.6 137.8,160.0 138.9,160.5 139.9,160.1 141.0,161.6 141.9,161.9 142.9,160.1 143.8,160.6 144.8,159.3 145.7,158.4 146.8,159.5 147.8,158.4 148.9,159.5 150.0,157.9 151.0,154.4 152.1,152.8 153.1,151.0 154.2,150.4 155.2,148.1 156.1,147.4 157.1,144.5 158.1,143.1 159.0,142.3 160.0,140.6 161.0,139.4 162.0,137.6 163.1,135.6 164.1,134.4 165.1,134.0 166.1,132.0 167.1,134.1 168.1,133.5 169.1,135.9 170.1,137.0 171.2,139.6 172.2,140.1 173.3,143.1 174.3,143.7 175.4,142.1 176.4,142.8 177.4,141.4 178.4,139.7 179.4,138.3 180.4,136.4 181.4,137.6 182.4,139.4 183.4,141.4 184.4,142.8 185.4,143.0 186.4,143.9 187.3,143.8 188.3,144.3 189.3,145.0 190.3,144.9 191.3,147.1 192.3,147.6 193.3,147.9 194.3,149.9 195.3,150.8 196.3,151.0 197.2,149.6 198.2,147.8 199.1,147.2 200.1,145.1 201.0,144.7 202.0,142.6 203.0,142.0 204.0,140.0 205.0,139.6 206.0,140.2 206.9,141.0 207.9,140.7 208.8,142.7 209.8,143.1 210.8,142.2 211.8,143.6 212.7,143.7 213.7,143.1 214.8,141.8 215.8,139.5 216.9,139.1 218.1,140.3 219.3,141.5 220.3,143.8 221.3,147.6 222.3,148.4 223.3,151.8 224.3,153.8 225.2,155.3 226.2,155.9 227.2,156.6 228.3,156.8 229.3,155.0 230.4,156.3 231.5,154.8 232.5,155.4 233.6,153.9 234.8,155.4 236.0,155.0 237.1,153.7 238.1,154.6 239.2,154.3 240.2,151.9 241.2,152.0 242.3,151.8 243.3,151.0 244.3,148.2 245.3,148.5 246.3,146.2 247.3,145.9 248.2,147.3 249.2,146.0 250.2,147.0 251.2,148.3 252.3,150.4 253.3,150.1 254.4,152.0 255.3,149.6 256.2,148.3 257.1,146.1 258.0,144.6 259.1,142.5 260.2,141.7 261.3,140.6 262.4,140.2 263.4,141.5 264.5,141.2 265.5,142.0 266.6,140.7 267.6,141.7 268.6,142.4 269.5,141.0 270.5,141.9 271.5,142.2 272.4,141.6 273.4,142.0 274.4,141.0 275.5,138.5 276.5,136.7 277.6,135.6 278.6,132.9 279.6,134.2 280.5,138.4 281.5,139.5 282.5,139.1 283.4,137.8 284.4,137.3 285.4,139.9 286.3,140.7 287.3,143.2 288.3,139.9 289.3,134.6 290.3,130.0 291.4,131.5 292.5,133.7 293.5,132.8 294.4,130.6 295.4,129.3 296.5,123.4 297.6,119.0 299.0,127.1 300.1,132.0 301.2,135.9 302.4,144.5 303.5,155.0 304.6,153.8 305.6,151.2 306.7,151.2 307.7,152.6 308.8,153.9 309.8,153.4 310.8,152.8 311.8,152.1 312.9,150.5 313.9,149.0 314.9,148.3 315.9,148.5 316.9,150.7 317.8,154.6 318.8,157.2 319.7,160.3 320.7,163.2 321.8,166.1 322.9,166.5 323.9,168.8 325.0,171.5 325.8,173.3 326.5,174.5 327.5,171.5 328.6,169.6 329.6,168.4 330.6,166.0 331.7,164.6 332.7,163.0 333.8,163.6 334.9,165.5 336.0,166.5 337.0,167.9 338.1,168.2 339.1,170.3 340.2,171.2 341.2,172.4 342.2,168.4 343.3,166.0 344.3,168.3 345.2,168.2 346.2,169.4 347.2,171.5 348.3,171.8 349.5,174.1 350.6,175.0 351.5,177.5 352.3,179.0 353.2,180.1 354.0,183.7 354.9,187.8 356.1,186.4 357.4,186.1 358.4,184.7 359.3,185.7 360.3,185.1 361.3,184.3 362.3,184.6 363.2,183.7 364.2,183.5 365.3,184.8 366.3,184.7 367.4,183.9 368.4,185.7 369.5,185.1 370.5,183.4 371.5,183.7 372.4,182.7 373.4,181.6 374.4,181.5 375.5,181.6 376.5,184.2 377.6,183.6 378.6,185.9 379.7,187.8 380.8,187.1 381.8,188.3 382.9,190.0 383.9,190.8 384.8,191.1 385.8,191.9 386.7,192.9 387.7,192.0 388.6,192.8 389.6,193.4 390.5,193.4 391.5,194.9 392.4,194.1 393.2,192.3 394.1,190.5 395.0,188.4 396.1,186.8 397.1,188.1 398.2,187.3 399.2,186.2 400.3,186.2 401.4,185.1 402.4,184.0 403.5,184.1 404.5,182.9 405.4,182.9 406.4,182.1 407.4,182.4 408.3,183.0 409.3,182.6 410.2,182.6 411.2,181.5 412.2,180.8 413.2,178.7 414.3,178.3 415.3,176.9 416.3,175.9 417.3,177.3 418.4,177.5 419.4,177.7 420.5,179.2 421.5,180.7 422.6,179.8 423.6,182.0 424.7,180.9 425.7,182.7 426.8,181.9 427.9,181.5 428.9,182.3 430.0,181.5 431.2,181.0 432.5,178.6 433.4,179.8 434.2,179.6 435.1,180.7 436.1,181.8 437.1,180.9 438.1,181.0 439.1,182.7 440.1,182.4 441.1,182.4 442.1,182.9 443.1,182.9 444.2,183.6 445.2,182.6 446.2,182.7 447.2,183.1 448.2,182.5 449.3,182.5 450.3,181.2 451.3,181.0 452.3,181.0 453.3,180.2 454.4,179.1 455.4,178.4 456.4,178.6 457.4,178.6 458.4,178.6 459.4,178.6 460.4,178.6 461.4,178.6 462.4,178.6 463.4,178.6 464.4,178.6 465.4,178.6 466.4,178.6 467.4,178.6 468.4,178.6 469.3,178.6 470.3,178.6 471.3,178.6 472.3,178.6 473.3,178.6 474.3,178.6 475.3,178.6 476.3,178.6 477.3,178.6 478.3,178.6 479.3,178.6 480.3,178.6 481.4,180.2 482.5,181.0 483.5,179.9 484.6,181.5 485.7,180.6 486.8,180.1 487.8,179.7 488.9,180.4 489.9,181.2 490.8,181.1 491.8,180.8 492.7,181.2 493.7,180.8 494.6,180.1 495.6,180.6 496.7,180.5 497.8,181.2 498.9,182.8 499.9,182.7 500.8,180.9 501.8,180.5 502.7,180.1 503.7,178.6 504.6,178.5 505.6,178.4 506.5,177.4 507.4,177.8 508.4,176.5 509.3,175.8 510.2,176.7 511.1,175.1 512.2,175.1 513.3,175.9 514.4,175.1"/></g>
<rect x="66" y="333" width="127" height="1" fill="#aca86e"/>
<rect x="66" y="345" width="127" height="1" fill="#aca86e"/>
<rect x="66" y="333" width="1" height="13" fill="#aca86e"/>
<rect x="192" y="333" width="1" height="13" fill="#aca86e"/>
<rect x="538" y="333" width="80" height="1" fill="#aca86e"/>
<rect x="538" y="345" width="80" height="1" fill="#aca86e"/>
<rect x="538" y="333" width="1" height="13" fill="#aca86e"/>
<rect x="66" y="346" width="23" height="1" fill="#aca86e"/>
<rect x="66" y="358" width="23" height="1" fill="#aca86e"/>
<rect x="66" y="346" width="1" height="13" fill="#aca86e"/>
<rect x="88" y="346" width="1" height="13" fill="#aca86e"/>
<rect x="89" y="346" width="58" height="1" fill="#aca86e"/>
<rect x="89" y="358" width="58" height="1" fill="#aca86e"/>
<rect x="89" y="346" width="1" height="13" fill="#aca86e"/>
<rect x="146" y="346" width="1" height="13" fill="#aca86e"/>
<rect x="147" y="346" width="172" height="1" fill="#aca86e"/>
<rect x="147" y="358" width="172" height="1" fill="#aca86e"/>
<rect x="147" y="346" width="1" height="13" fill="#aca86e"/>
<rect x="318" y="346" width="1" height="13" fill="#aca86e"/>
<rect x="503" y="346" width="115" height="1" fill="#aca86e"/>
<rect x="503" y="358" width="115" height="1" fill="#aca86e"/>
<rect x="503" y="346" width="1" height="13" fill="#aca86e"/>
<rect x="66" y="359" width="191" height="1" fill="#aca86e"/>
<rect x="66" y="371" width="191" height="1" fill="#aca86e"/>
<rect x="66" y="359" width="1" height="13" fill="#aca86e"/>
<rect x="256" y="359" width="1" height="13" fill="#aca86e"/>
<rect x="257" y="359" width="120" height="1" fill="#aca86e"/>
<rect x="257" y="371" width="120" height="1" fill="#aca86e"/>
<rect x="257" y="359" width="1" height="13" fill="#aca86e"/>
<rect x="376" y="359" width="1" height="13" fill="#aca86e"/>
<rect x="377" y="359" width="89" height="1" fill="#aca86e"/>
<rect x="377" y="371" width="89" height="1" fill="#aca86e"/>
<rect x="377" y="359" width="1" height="13" fill="#aca86e"/>
<rect x="465" y="359" width="1" height="13" fill="#aca86e"/>
<rect x="481" y="359" width="137" height="1" fill="#aca86e"/>
<rect x="481" y="371" width="137" height="1" fill="#aca86e"/>
<rect x="442" y="32" width="6" height="2" fill="#00c8f8"/>
<rect x="442" y="45" width="6" height="2" fill="#ff0000"/>
<rect x="442" y="59" width="6" height="2" fill="#00ff00"/>
</svg>
<div class="t sb" style="left:189px;top:6px;font-size:19px;letter-spacing:-0.2px;transform:scale(1,1.055);transform-origin:0 0;">24 Hour Spot Gold (Bid)</div>
<div class="t sb" style="left:68px;top:40px;font-size:19px;letter-spacing:-0.2px;">www.kitco.com</div>
<div class="t m7" style="left:19px;top:9px;color:#d4d4d4;">USD/oz</div>
<div class="t m7" style="left:19px;top:23px;color:#d4d4d4;">2520.0</div>
<div class="t m7" style="left:19px;top:72px;color:#d4d4d4;">2500.0</div>
<div class="t m7" style="left:19px;top:122px;color:#d4d4d4;">2480.0</div>
<div class="t m7" style="left:19px;top:171px;color:#d4d4d4;">2460.0</div>
<div class="t m7" style="left:19px;top:220px;color:#d4d4d4;">2440.0</div>
<div class="t m7" style="left:19px;top:269px;color:#d4d4d4;">2420.0</div>
<div class="t m7" style="left:19px;top:319px;color:#d4d4d4;">2400.0</div>
<div class="t m7" style="left:19px;top:368px;color:#d4d4d4;">2380.0</div>
<div class="t m7" style="left:475px;top:16px;color:#d4d4d4;">July 17, 2024 19:27</div>
<div class="t m7" style="left:451px;top:30px;color:#00c8f8;">Jul 15 NY close 2421.60</div>
<div class="t m7" style="left:451px;top:42px;color:#ff0000;">Jul 16 NY close 2468.10</div>
<div class="t m7" style="left:451px;top:55px;color:#00ff00;">Jul 17 Last 2459.60</div>
<div class="t m7" style="left:47px;top:379px;color:#d4d4d4;">00:00</div>
<div class="t m7" style="left:47px;top:393px;color:#666666;">04:00</div>
<div class="t m7" style="left:139px;top:379px;color:#d4d4d4;">04:00</div>
<div class="t m7" style="left:139px;top:393px;color:#666666;">08:00</div>
<div class="t m7" style="left:232px;top:379px;color:#d4d4d4;">08:00</div>
<div class="t m7" style="left:232px;top:393px;color:#666666;">12:00</div>
<div class="t m7" style="left:324px;top:379px;color:#d4d4d4;">12:00</div>
<div class="t m7" style="left:324px;top:393px;color:#666666;">16:00</div>
<div class="t m7" style="left:416px;top:379px;color:#d4d4d4;">16:00</div>
<div class="t m7" style="left:416px;top:393px;color:#666666;">20:00</div>
<div class="t m7" style="left:508px;top:379px;color:#d4d4d4;">20:00</div>
<div class="t m7" style="left:508px;top:393px;color:#666666;">00:00</div>
<div class="t m7" style="left:589px;top:379px;color:#d4d4d4;">23:59</div>
<div class="t m7" style="left:590px;top:393px;color:#666666;">03:59</div>
<div class="t m6" style="left:2px;top:380px;color:#d4d4d4;">NY Time</div>
<div class="t m6" style="left:10px;top:392px;color:#d4d4d4;">GMT</div>
<div class="t m6" style="left:88px;top:335px;color:#ffcc00;">Hong Kong</div>
<div class="t m6" style="left:213px;top:348px;color:#ffcc00;">London</div>
<div class="t m6" style="left:105px;top:361px;color:#ffcc00;">New York Globex</div>
<div class="t m6" style="left:275px;top:361px;color:#ffcc00;">New York NYMEX</div>
<div class="t m6" style="left:389px;top:361px;color:#ffcc00;">NY Globex</div>
<div class="t m6" style="left:547px;top:335px;color:#ffcc00;">Hong Kong</div>
<div class="t m6" style="left:531px;top:348px;color:#ffcc00;">Sydney</div>
<div class="t m6" style="left:504px;top:361px;color:#ffcc00;">New York Globex</div>
</div></body></html>
